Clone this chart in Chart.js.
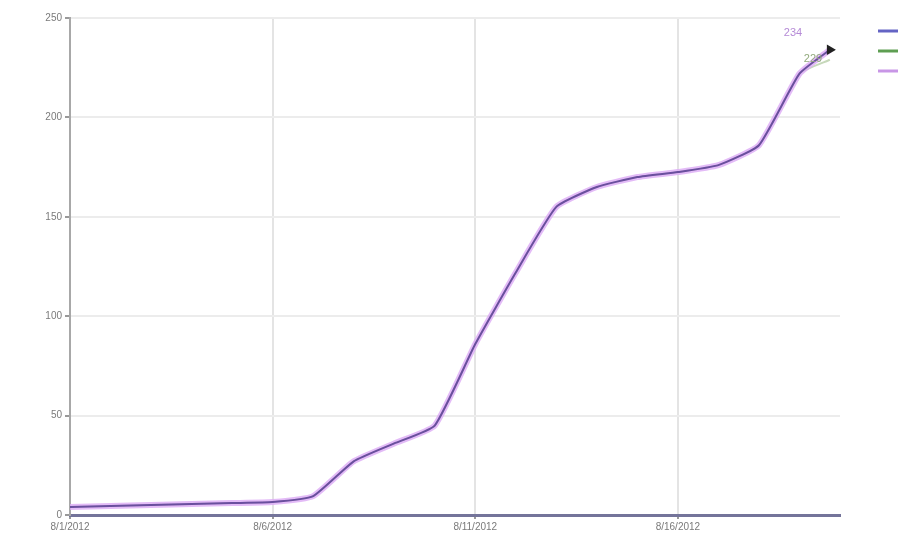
<!DOCTYPE html>
<html>
<head>
<meta charset="utf-8">
<script src="https://cdn.jsdelivr.net/npm/chart.js@4.4.0/dist/chart.umd.min.js"></script>
<style>
  html, body { margin: 0; padding: 0; background: #fff; }
  #wrap { width: 898px; height: 544px; }
</style>
</head>
<body>
<div id="wrap"><canvas id="myChart" width="898" height="544"></canvas></div>
<script>
// dias desde 8/1/2012
var dias = [0, 1, 2, 3, 4, 5, 6, 7, 8, 9, 10, 11, 12, 13, 14, 15, 16, 17, 18, 18.75]
var serieMorada = [4, 4.5, 5, 5.5, 6, 6.5, 9.5, 27, 36, 45, 86, 122, 155, 165, 170, 172.5, 176, 186, 222, 234]
var serieVerde = [4, 4.5, 5, 5.5, 6, 6.5, 9.5, 27, 36, 45, 86, 122, 155, 165, 170, 172.5, 176, 186, 222, 229]
var serieLila = [4, 4.5, 5, 5.5, 6, 6.5, 9.5, 27, 36, 45, 86, 122, 155, 165, 170, 172.5, 176, 186, 222, 234]
var ticksX = [0, 5, 10, 15]
var etiquetasX = ['8/1/2012', '8/6/2012', '8/11/2012', '8/16/2012']
var ticksY = [0, 50, 100, 150, 200, 250]

function puntos(valores) {
    return dias.map((d, i) => ({ x: d, y: valores[i] }))
}

// leyenda sin texto, solo las lineas de color
var leyenda = {
    id: 'leyenda',
    afterDraw(chart) {
        let c = chart.ctx
        let colores = ['#6464c4', '#5e9e52', '#c896e6']
        c.save()
        colores.forEach((col, i) => {
            c.strokeStyle = col
            c.lineWidth = 3
            c.beginPath()
            c.moveTo(878, 31 + i * 20)
            c.lineTo(898, 31 + i * 20)
            c.stroke()
        })
        c.restore()
    }
}

// valores al final de las series
var etiquetas = {
    id: 'etiquetas',
    afterDatasetsDraw(chart) {
        let c = chart.ctx
        c.save()
        c.font = '11px "Liberation Sans", Arial, sans-serif'
        c.textAlign = 'left'
        let info = [[2, '#b58ad6', -46, -14], [1, '#93ab7e', -26, 2]]
        info.forEach(([idx, col, dx, dy]) => {
            let meta = chart.getDatasetMeta(idx)
            let p = meta.data[meta.data.length - 1]
            let v = chart.data.datasets[idx].data[meta.data.length - 1].y
            c.fillStyle = col
            c.fillText(String(v), p.x + dx, p.y + dy)
        })
        c.restore()
    }
}

var ctx = document.getElementById('myChart')
var grafico = new Chart(ctx, {
    type: 'line',
    data: {
        datasets: [{
            label: '',
            data: puntos(serieMorada),
            borderColor: '#6a4f9e',
            borderWidth: 2,
            tension: 0.15,
            pointRadius: dias.map((d, i) => i == dias.length - 1 ? 4 : 0),
            pointStyle: 'triangle',
            rotation: 90,
            pointBackgroundColor: '#222',
            pointBorderColor: '#222',
            order: 1
        }, {
            label: '',
            data: puntos(serieVerde),
            borderColor: 'rgba(160, 190, 140, 0.6)',
            borderWidth: 2,
            tension: 0.15,
            pointRadius: 0,
            order: 4
        }, {
            label: '',
            data: puntos(serieLila),
            borderColor: 'rgba(220, 170, 245, 0.8)',
            borderWidth: 6,
            tension: 0.15,
            pointRadius: 0,
            order: 3
        }]
    },
    options: {
        responsive: false,
        animation: false,
        layout: { padding: { top: 18, right: 58, left: 0, bottom: 0 } },
        plugins: {
            legend: { display: false },
            tooltip: { enabled: false }
        },
        scales: {
            x: {
                type: 'linear',
                min: 0,
                max: 19,
                afterBuildTicks: s => { s.ticks = ticksX.map(v => ({ value: v })) },
                afterFit: s => { s.height = 29 },
                grid: { color: '#e4e4e4', lineWidth: 2, drawTicks: true, tickLength: 4, tickColor: '#999' },
                border: { color: '#74749a', width: 3 },
                ticks: {
                    color: '#7a7a7a',
                    font: { size: 10, family: '"Liberation Sans", Arial, sans-serif' },
                    maxRotation: 0,
                    padding: 2,
                    callback: v => etiquetasX[ticksX.indexOf(v)]
                }
            },
            y: {
                min: 0,
                max: 250,
                afterBuildTicks: s => { s.ticks = ticksY.map(v => ({ value: v })) },
                afterFit: s => { s.width = 70 },
                grid: { color: '#ececec', lineWidth: 2, tickLength: 5, tickColor: '#999' },
                border: { color: '#a8a8a8', width: 2 },
                ticks: {
                    color: '#7a7a7a',
                    font: { size: 10, family: '"Liberation Sans", Arial, sans-serif' },
                    padding: 3,
                    callback: v => v
                }
            }
        }
    },
    plugins: [leyenda, etiquetas]
})
</script>
</body>
</html>
